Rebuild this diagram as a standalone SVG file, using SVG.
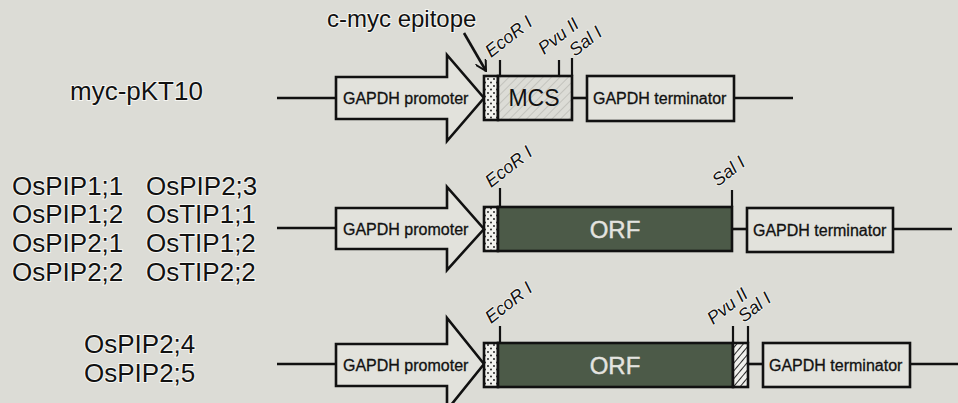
<svg xmlns="http://www.w3.org/2000/svg" width="958" height="403" viewBox="0 0 958 403">
<defs>
<pattern id="dots" width="6" height="7" patternUnits="userSpaceOnUse">
<rect width="6" height="7" fill="#f2f2ee"/>
<circle cx="2" cy="2" r="0.9" fill="#111"/>
<circle cx="5" cy="5.5" r="0.9" fill="#111"/>
</pattern>
<pattern id="hatchLight" width="6" height="6" patternUnits="userSpaceOnUse" patternTransform="rotate(45)">
<rect width="6" height="6" fill="#dcdcd6"/>
<line x1="0" y1="0" x2="0" y2="6" stroke="#b8b8b2" stroke-width="1.4"/>
</pattern>
<pattern id="hatchDark" width="5" height="5" patternUnits="userSpaceOnUse" patternTransform="rotate(40)">
<rect width="5" height="5" fill="#f0f0ec"/>
<line x1="0" y1="0" x2="0" y2="5" stroke="#111" stroke-width="1.8"/>
</pattern>
<marker id="openArrow" viewBox="0 0 12 12" refX="11" refY="6" markerWidth="12" markerHeight="12" markerUnits="userSpaceOnUse" orient="auto">
<path d="M0,0 L11,6 L0,12" fill="none" stroke="#111" stroke-width="2"/>
</marker>
<style>
.bb{stroke:#111;stroke-width:2.6;fill:none}
.box{stroke:#111;stroke-width:2.6;fill:#e2e2dc}
.prom{stroke:#111;stroke-width:2.6;fill:#e2e2dc;stroke-linejoin:miter}
.orf{stroke:#111;stroke-width:2.6;fill:#4c5a48}
.tick{stroke:#111;stroke-width:2.2}
.lab{font-family:"Liberation Sans",Arial,sans-serif;font-size:26px;fill:#111;stroke:#f6f6f2;stroke-width:2;paint-order:stroke}
.el{font-family:"Liberation Sans",Arial,sans-serif;font-size:16px;fill:#111;stroke:#111;stroke-width:0.3}
.site{font-family:"Liberation Sans",Arial,sans-serif;font-size:18px;font-style:italic;fill:#111;stroke:#f6f6f2;stroke-width:1.5;paint-order:stroke}
.big{font-family:"Liberation Sans",Arial,sans-serif;font-size:23px;fill:#111;text-anchor:middle}
.orft{font-family:"Liberation Sans",Arial,sans-serif;font-size:24px;fill:#e4e4e0;text-anchor:middle;stroke:#e4e4e0;stroke-width:0.4}
</style>
</defs>
<rect width="958" height="403" fill="#dcdcd6"/>

<g id="connectors">
<line class="bb" x1="277" y1="98" x2="336" y2="98"/>
<line class="bb" x1="572" y1="98" x2="587" y2="98"/>
<line class="bb" x1="734" y1="98" x2="793" y2="98"/>
<line class="bb" x1="277" y1="228" x2="336" y2="228"/>
<line class="bb" x1="732" y1="229" x2="747" y2="229"/>
<line class="bb" x1="893" y1="229" x2="952" y2="229"/>
<line class="bb" x1="277" y1="364" x2="336" y2="364"/>
<line class="bb" x1="748" y1="364" x2="763" y2="364"/>
<line class="bb" x1="910" y1="364" x2="958" y2="364"/>
<line class="bb" x1="464" y1="33" x2="486" y2="71" marker-end="url(#openArrow)"/>
</g>

<g id="label-cmyc"><text class="lab" x="327" y="27" style="font-size:24px">c-myc epitope</text></g>

<g id="row1">
<g id="row1-label"><text class="lab" x="70" y="100">myc-pKT10</text></g>
<g id="row1-promoter">
<polygon class="prom" points="336,77 447,77 447,55 484,98 447,141 447,119 336,119"/>
<text class="el" x="343" y="104">GAPDH promoter</text>
</g>
<g id="row1-myc"><rect x="484" y="76" width="14" height="44" fill="url(#dots)" stroke="#111" stroke-width="2.6"/></g>
<g id="row1-mcs">
<rect x="498" y="76" width="74" height="44" fill="url(#hatchLight)" stroke="#111" stroke-width="2.6"/>
<text class="big" x="534" y="106">MCS</text>
</g>
<g id="row1-sites">
<line class="tick" x1="500" y1="60" x2="500" y2="76"/>
<line class="tick" x1="559" y1="60" x2="559" y2="76"/>
<line class="tick" x1="572" y1="58" x2="572" y2="76"/>
<text class="site" transform="translate(491,58) rotate(-38)">EcoR I</text>
<text class="site" transform="translate(544,55) rotate(-38)">Pvu II</text>
<text class="site" transform="translate(575,57) rotate(-38)">Sal I</text>
</g>
<g id="row1-terminator">
<rect class="box" x="587" y="76" width="147" height="45"/>
<text class="el" x="593" y="104">GAPDH terminator</text>
</g>
</g>

<g id="row2">
<g id="row2-label">
<text class="lab" x="12" y="195">OsPIP1;1</text>
<text class="lab" x="146" y="195">OsPIP2;3</text>
<text class="lab" x="12" y="223">OsPIP1;2</text>
<text class="lab" x="146" y="223">OsTIP1;1</text>
<text class="lab" x="12" y="252">OsPIP2;1</text>
<text class="lab" x="146" y="252">OsTIP1;2</text>
<text class="lab" x="12" y="281">OsPIP2;2</text>
<text class="lab" x="146" y="281">OsTIP2;2</text>
</g>
<g id="row2-promoter">
<polygon class="prom" points="336,208 447,208 447,187 484,229 447,270 447,249 336,249"/>
<text class="el" x="343" y="235">GAPDH promoter</text>
</g>
<g id="row2-myc"><rect x="484" y="207" width="14" height="44" fill="url(#dots)" stroke="#111" stroke-width="2.6"/></g>
<g id="row2-orf">
<rect class="orf" x="498" y="207" width="234" height="44"/>
<text class="orft" x="615" y="238">ORF</text>
</g>
<g id="row2-sites">
<line class="tick" x1="500" y1="188" x2="500" y2="207"/>
<line class="tick" x1="732" y1="190" x2="732" y2="207"/>
<text class="site" transform="translate(491,188) rotate(-38)">EcoR I</text>
<text class="site" transform="translate(718,187) rotate(-38)">Sal I</text>
</g>
<g id="row2-terminator">
<rect class="box" x="747" y="208" width="146" height="44"/>
<text class="el" x="753" y="236">GAPDH terminator</text>
</g>
</g>

<g id="row3">
<g id="row3-label">
<text class="lab" x="84" y="353">OsPIP2;4</text>
<text class="lab" x="84" y="382">OsPIP2;5</text>
</g>
<g id="row3-promoter">
<polygon class="prom" points="336,344 447,344 447,318 484,364 447,410 447,386 336,386"/>
<text class="el" x="343" y="371">GAPDH promoter</text>
</g>
<g id="row3-myc"><rect x="484" y="343" width="14" height="44" fill="url(#dots)" stroke="#111" stroke-width="2.6"/></g>
<g id="row3-orf">
<rect class="orf" x="498" y="343" width="235" height="44"/>
<text class="orft" x="615" y="374">ORF</text>
</g>
<g id="row3-linker"><rect x="733" y="343" width="15" height="44" fill="url(#hatchDark)" stroke="#111" stroke-width="2.6"/></g>
<g id="row3-sites">
<line class="tick" x1="500" y1="326" x2="500" y2="343"/>
<line class="tick" x1="733" y1="326" x2="733" y2="343"/>
<line class="tick" x1="748" y1="326" x2="748" y2="343"/>
<text class="site" transform="translate(491,324) rotate(-38)">EcoR I</text>
<text class="site" transform="translate(713,325) rotate(-38)">Pvu II</text>
<text class="site" transform="translate(744,323) rotate(-38)">Sal I</text>
</g>
<g id="row3-terminator">
<rect class="box" x="763" y="343" width="147" height="44"/>
<text class="el" x="769" y="371">GAPDH terminator</text>
</g>
</g>
</svg>
